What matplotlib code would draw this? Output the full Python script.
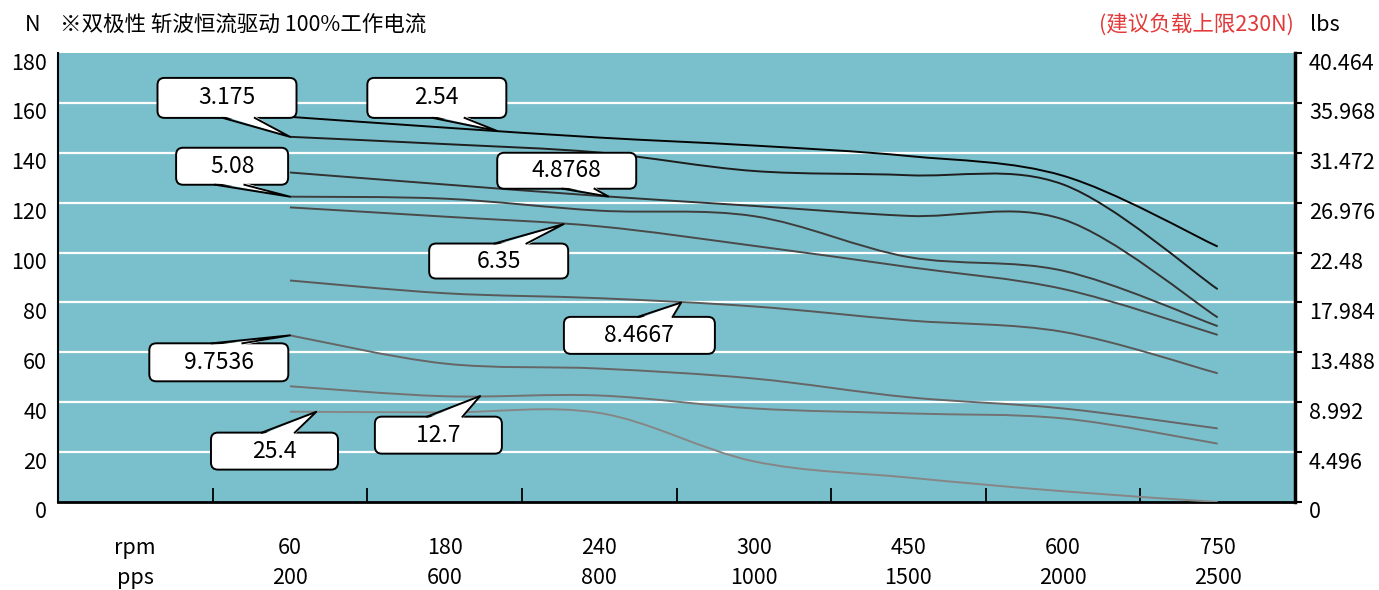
import numpy as np
import matplotlib
matplotlib.use('Agg')
import matplotlib.pyplot as plt
from matplotlib.path import Path
from matplotlib.patches import PathPatch, FancyBboxPatch, Polygon
from matplotlib.lines import Line2D
from matplotlib.transforms import ScaledTranslation, IdentityTransform

plt.rcParams['font.family'] = ['Noto Sans CJK SC', 'DejaVu Sans']

# 速度点
rpm = ['60', '180', '240', '300', '450', '600', '750']
pps = ['200', '600', '800', '1000', '1500', '2000', '2500']

# 各丝杆导程下的推力 (N)
thrust_2_54 = [154.4, 150.1, 146.1, 142.9, 138.7, 130.8, 102.4]
thrust_3_175 = [146.4, 143.5, 140.1, 132.7, 131.0, 127.3, 85.3]
thrust_4_8768 = [132.1, 127.3, 122.7, 118.7, 114.7, 113.3, 74.0]
thrust_5_08 = [122.4, 121.6, 116.8, 114.6, 98.2, 92.7, 70.5]
thrust_6_35 = [118.1, 114.4, 110.5, 102.7, 94.2, 85.4, 67.0]
thrust_8_4667 = [88.8, 83.7, 81.7, 78.4, 72.8, 68.2, 51.6]
thrust_9_7536 = [66.8, 55.5, 53.5, 49.5, 42.0, 37.5, 29.5]
thrust_12_7 = [46.4, 42.4, 42.7, 37.5, 35.5, 33.5, 23.4]
thrust_25_4 = [36.2, 35.9, 35.7, 16.3, 9.8, 4.3, 0.0]

n_ticks = [0, 20, 40, 60, 80, 100, 120, 140, 160, 180]
lbs_labels = ['0', '4.496', '8.992', '13.488', '17.984', '22.48',
              '26.976', '31.472', '35.968', '40.464']

curves = [
    (thrust_2_54, '#050505'),
    (thrust_3_175, '#1e1e1e'),
    (thrust_4_8768, '#333333'),
    (thrust_5_08, '#3e3e3e'),
    (thrust_6_35, '#4a4a4a'),
    (thrust_8_4667, '#595959'),
    (thrust_9_7536, '#666666'),
    (thrust_12_7, '#727272'),
    (thrust_25_4, '#868686'),
]

# 标注框: 文字, 曲线, 指向x, 框中心(x, N), 宽, 高(px), 指针所在边, 指针根部位置
callouts = [
    ('3.175', thrust_3_175, 1.0, 0.593, 162.0, 139, 40, 'bottom', (0.47, 0.70)),
    ('2.54', thrust_2_54, 2.34, 1.95, 162.0, 139, 40, 'bottom', (0.47, 0.70)),
    ('5.08', thrust_5_08, 1.0, 0.626, 134.6, 112, 37, 'bottom', (0.35, 0.61)),
    ('4.8768', thrust_4_8768, 3.06, 2.79, 132.8, 139, 36, 'bottom', (0.47, 0.70)),
    ('6.35', thrust_6_35, 2.77, 2.35, 96.6, 139, 35, 'top', (0.47, 0.70)),
    ('8.4667', thrust_8_4667, 3.53, 3.26, 66.8, 151, 37, 'top', (0.49, 0.72)),
    ('9.7536', thrust_9_7536, 1.0, 0.54, 56.0, 139, 38, 'top', (0.45, 0.67)),
    ('12.7', thrust_12_7, 2.23, 1.96, 26.8, 127, 37, 'top', (0.41, 0.69)),
    ('25.4', thrust_25_4, 1.17, 0.90, 20.4, 127, 37, 'top', (0.40, 0.66)),
]


def smooth_path(xs, ys):
    """类似Excel平滑线的贝塞尔曲线"""
    pts = np.column_stack([xs, ys]).astype(float)
    n = len(pts)
    verts = [pts[0]]
    codes = [Path.MOVETO]
    for i in range(n - 1):
        p0 = pts[i - 1] if i > 0 else pts[i]
        p1, p2 = pts[i], pts[i + 1]
        p3 = pts[i + 2] if i + 2 < n else pts[i + 1]
        verts += [p1 + (p2 - p0) / 6, p2 - (p3 - p1) / 6, p2]
        codes += [Path.CURVE4] * 3
    return Path(verts, codes)


W, H, DPI = 1379, 590, 100
fig = plt.figure(figsize=(W / DPI, H / DPI), dpi=DPI)
ax = fig.add_axes([58 / W, 88 / H, (1295 - 58) / W, (502 - 53) / H])
ax.set_facecolor('#7ac0cc')
ax.set_xlim(-0.5, 7.5)
ax.set_ylim(0, 180)

for v in n_ticks[1:-1]:
    ax.axhline(v, color='white', lw=1.6, zorder=1)

x = np.arange(1, len(rpm) + 1)
for data, color in curves:
    ax.add_patch(PathPatch(smooth_path(x, data), fill=False, edgecolor=color,
                           lw=1.4, zorder=3))

# 坐标轴
for side in ['top', 'right']:
    ax.spines[side].set_visible(False)
ax.spines['left'].set_linewidth(1.5)
ax.spines['bottom'].set_linewidth(2.0)

ax.set_xticks(np.arange(0.5, 7, 1.0))
ax.set_xticklabels([])
ax.tick_params(axis='x', which='major', direction='in', length=10, width=1.3, color='black')
ax.set_xticks(np.arange(0, 8), minor=True)
ax.set_xticklabels(['rpm\npps'] + [f'{r}\n{p}' for r, p in zip(rpm, pps)], minor=True)
ax.tick_params(axis='x', which='minor', length=0, pad=25, labelsize=15.5)
plt.setp(ax.get_xticklabels(minor=True), linespacing=1.5)

down = ScaledTranslation(0, -0.08, fig.dpi_scale_trans)
ax.set_yticks(n_ticks)
ax.set_yticklabels([str(v) for v in n_ticks])
ax.tick_params(axis='y', length=0, pad=8, labelsize=15.5)
for lab in ax.get_yticklabels():
    lab.set_transform(lab.get_transform() + down)

ax2 = ax.twinx()
ax2.set_ylim(0, 180)
ax2.set_yticks(n_ticks)
ax2.set_yticklabels(lbs_labels)
ax2.tick_params(axis='y', length=5, width=1.5, pad=5, labelsize=15.5)
for lab in ax2.get_yticklabels():
    lab.set_transform(lab.get_transform() + down)
for side in ['top', 'left', 'bottom']:
    ax2.spines[side].set_visible(False)
ax2.spines['right'].set_linewidth(2.5)

# 标注框
for text, data, tx, cx, cy, bw, bh, side, (f1, f2) in callouts:
    tip = ax.transData.transform((tx, np.interp(tx, x, data)))
    cxp, cyp = ax.transData.transform((cx, cy))
    left, bottom = cxp - bw / 2, cyp - bh / 2
    box = FancyBboxPatch((left, bottom), bw, bh,
                         boxstyle='round,pad=0,rounding_size=7',
                         facecolor='white', edgecolor='black', lw=1.4,
                         transform=IdentityTransform(), zorder=5)
    fig.add_artist(box)
    ey = bottom if side == 'bottom' else bottom + bh
    inset = 2 if side == 'bottom' else -2
    b1 = (left + f1 * bw, ey)
    b2 = (left + f2 * bw, ey)
    fig.add_artist(Polygon([(b1[0], ey + inset), tuple(tip), (b2[0], ey + inset)],
                           closed=True, facecolor='white', edgecolor='none',
                           transform=IdentityTransform(), zorder=6))
    fig.add_artist(Line2D([b1[0], tip[0], b2[0]], [b1[1], tip[1], b2[1]],
                          color='black', lw=1.4, transform=IdentityTransform(),
                          zorder=7))
    fig.text(cxp, cyp, text, transform=IdentityTransform(), ha='center',
             va='center', fontsize=16.5, zorder=8)

# 表头
ty = 1 - 25 / H
fig.text(33 / W, ty, 'N', ha='center', va='center', fontsize=15.5)
fig.text(60 / W, ty, '※双极性 斩波恒流驱动 100%工作电流', ha='left', va='center', fontsize=15.5)
fig.text(1294 / W, ty, '(建议负载上限230N)', ha='right', va='center', fontsize=15.5,
         color='#e23a3a')
fig.text(1310 / W, ty, 'lbs', ha='left', va='center', fontsize=15.5)

fig.savefig('out.png', dpi=DPI)
